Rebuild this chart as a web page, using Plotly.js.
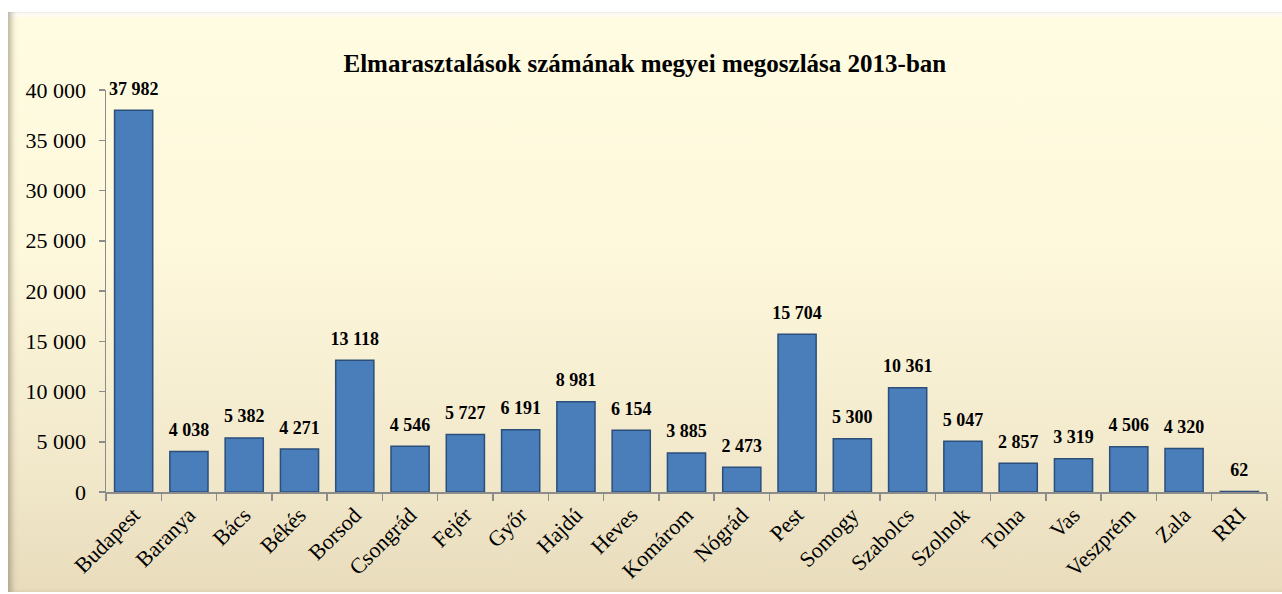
<!DOCTYPE html>
<html>
<head>
<meta charset="utf-8">
<script src="https://cdn.plot.ly/plotly-3.0.1.min.js"></script>
<style>
  html, body { margin: 0; padding: 0; background: #ffffff; }
  #frame {
    position: absolute; left: 8px; top: 12px; width: 1274px; height: 580px;
    background: linear-gradient(to bottom, #FFFCE1 0%, #FEF8DC 40%, #F3EACD 75%, #E8DCBC 100%);
    box-shadow: inset 6px 0 6px -3px rgba(120,110,90,0.55), inset 0 10px 4px -6px rgba(255,255,255,0.9), inset 0 1px 0 #E6D9C3;
  }
  #chart { position: absolute; left: 0; top: 0; width: 1282px; height: 594px; }
</style>
</head>
<body>
<div id="frame"></div>
<div id="chart"></div>
<script>
const categories = ["Budapest","Baranya","Bács","Békés","Borsod","Csongrád","Fejér","Győr","Hajdú","Heves","Komárom","Nógrád","Pest","Somogy","Szabolcs","Szolnok","Tolna","Vas","Veszprém","Zala","RRI"];
const values = [37982,4038,5382,4271,13118,4546,5727,6191,8981,6154,3885,2473,15704,5300,10361,5047,2857,3319,4506,4320,62];
const tickValues = [0,5000,10000,15000,20000,25000,30000,35000,40000];
const titleText = "Elmarasztalások számának megyei megoszlása 2013-ban";

const serif = "'Liberation Serif', 'Times New Roman', serif";

const bars = {
  type: 'bar',
  x: categories,
  y: values,
  marker: { color: '#4A7EBB', line: { color: '#2B4E7A', width: 1.5 } },
  hoverinfo: 'x+y'
};

const labels = {
  type: 'scatter',
  mode: 'markers+text',
  x: categories,
  y: values,
  marker: { size: 16, opacity: 0 },
  texttemplate: '<b>%{y:,}</b>',
  textposition: 'top center',
  textfont: { family: serif, size: 18, color: '#000000' },
  cliponaxis: false,
  hoverinfo: 'skip'
};

const layout = {
  width: 1282, height: 594,
  margin: { l: 106, r: 15, t: 90, b: 102 },
  paper_bgcolor: 'rgba(0,0,0,0)',
  plot_bgcolor: 'rgba(0,0,0,0)',
  separators: ', ',
  bargap: 0.31,
  showlegend: false,
  title: {
    text: '<b>' + titleText + '</b>',
    font: { family: serif, size: 25, color: '#000000' },
    x: 0.503, xanchor: 'center', y: 0.893, yanchor: 'middle'
  },
  xaxis: {
    type: 'category',
    range: [-0.5, categories.length - 0.5],
    autorange: false,
    tickangle: -45,
    tickfont: { family: serif, size: 22, color: '#000000' },
    showline: true, linecolor: '#8C8C8C', linewidth: 1.5,
    ticks: 'outside', ticklen: 7, tickcolor: '#8C8C8C', tickwidth: 1.5,
    tickson: 'boundaries',
    showgrid: false, zeroline: false
  },
  yaxis: {
    range: [0, 40000],
    tickvals: tickValues,
    tickformat: ',d',
    tickfont: { family: serif, size: 22, color: '#000000' },
    ticklabelstandoff: 8,
    showline: true, linecolor: '#8C8C8C', linewidth: 1.5,
    ticks: 'outside', ticklen: 6, tickcolor: '#8C8C8C', tickwidth: 1.5,
    showgrid: false, zeroline: false
  }
};

Plotly.newPlot('chart', [bars, labels], layout, { displayModeBar: false, staticPlot: true });
</script>
</body>
</html>
